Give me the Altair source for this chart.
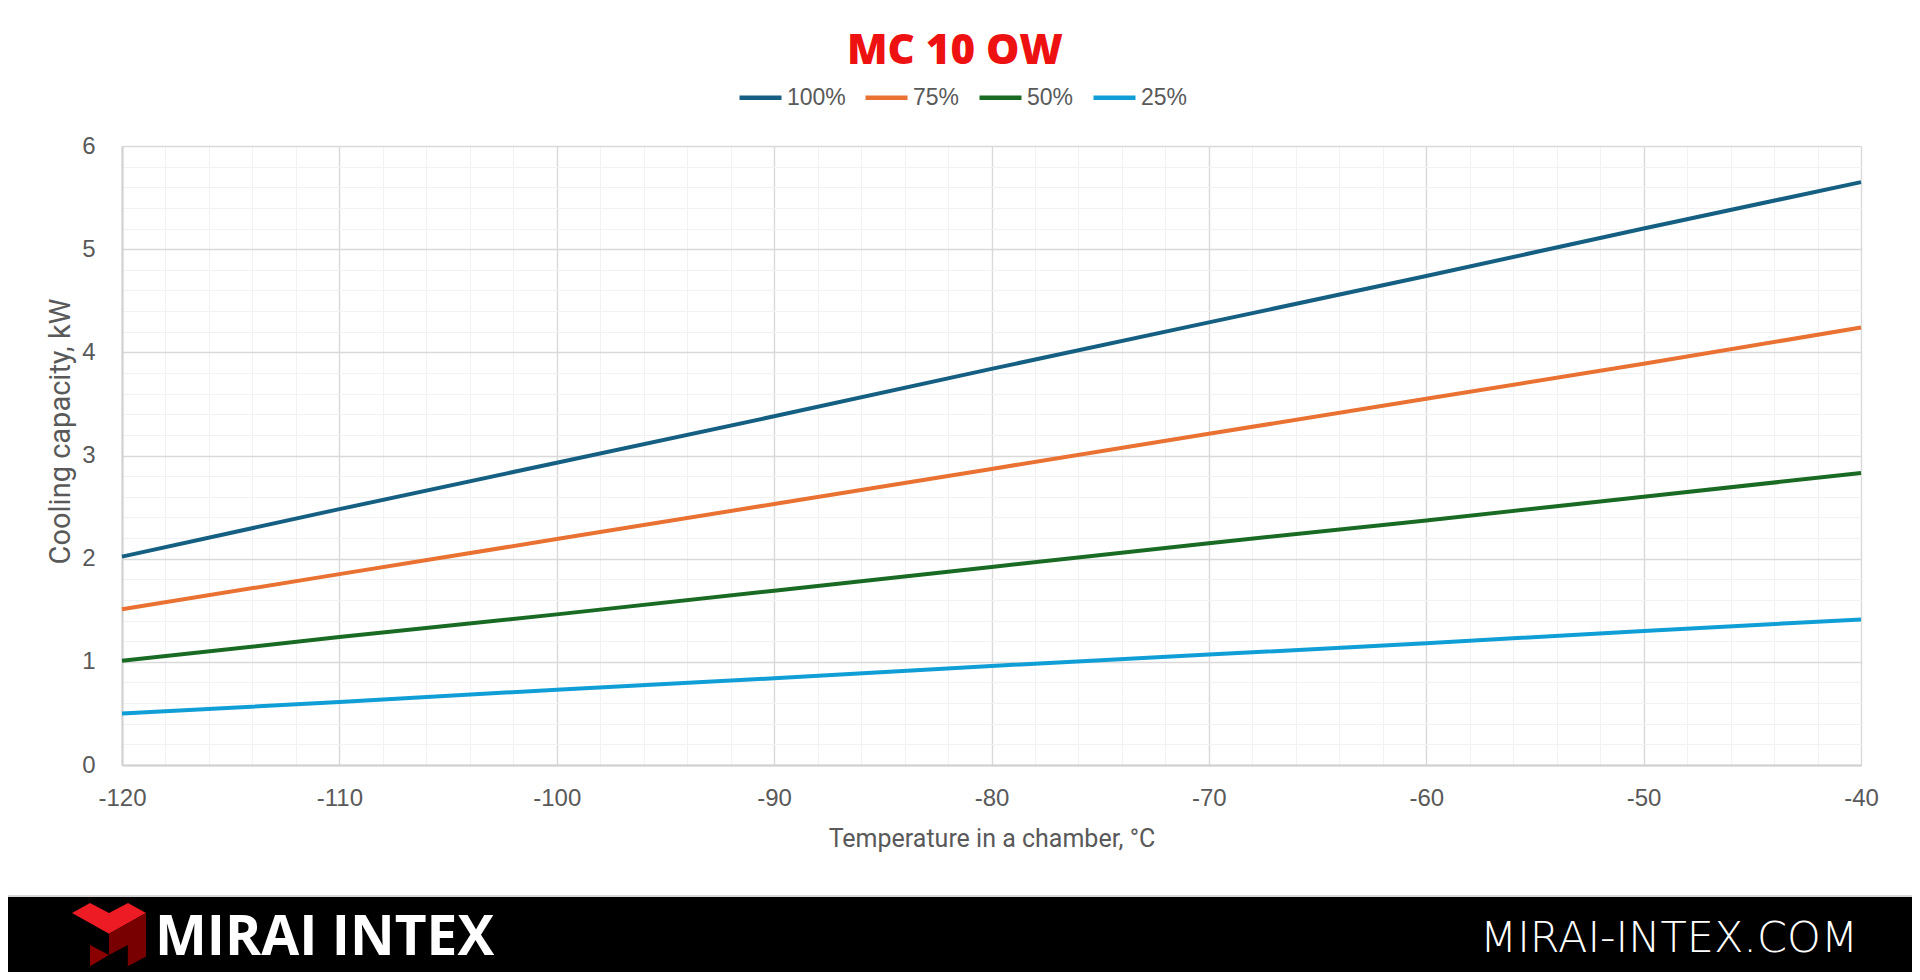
import altair as alt
import pandas as pd

# ---- data ----
temps = [-120, -110, -100, -90, -80, -70, -60, -50, -40]
load_100 = [2.02, 2.48, 2.93, 3.38, 3.84, 4.29, 4.74, 5.20, 5.65]
load_75 = [1.51, 1.85, 2.19, 2.53, 2.87, 3.21, 3.55, 3.89, 4.24]
load_50 = [1.01, 1.24, 1.46, 1.69, 1.92, 2.15, 2.37, 2.60, 2.83]
load_25 = [0.50, 0.61, 0.73, 0.84, 0.96, 1.07, 1.18, 1.30, 1.41]
series_names = ["100%", "75%", "50%", "25%"]
series_colors = ["#156082", "#E97132", "#196B24", "#0F9ED5"]

x_ticks = list(range(-120, -39, 2))
y_ticks = [round(i * 0.2, 1) for i in range(31)]

title_text = "MC 10 OW"
x_title = "Temperature in a chamber, °C"
y_title = "Cooling capacity, kW"
brand_text = "MIRAI INTEX"
site_text = "MIRAI-INTEX.COM"

rows = []
for name, vals in zip(series_names, [load_100, load_75, load_50, load_25]):
    for t, v in zip(temps, vals):
        rows.append({"series": name, "temp": t, "kw": v})
df = pd.DataFrame(rows)

PW, PH = 1739, 619
GRAY = "#595959"
one = pd.DataFrame({"a": [0]})

x_axis = alt.Axis(
    values=x_ticks, grid=True, ticks=False, domain=True,
    domainColor="#D0D0D0", domainWidth=2,
    gridColor={"condition": {"test": "datum.value % 10 === 0", "value": "#D9D9D9"}, "value": "#F2F2F2"},
    gridWidth={"condition": {"test": "datum.value % 10 === 0", "value": 1.4}, "value": 1},
    labelExpr="datum.value % 10 === 0 ? '' + datum.value : ''",
    labelOverlap=False, labelFont="Liberation Sans", labelFontSize=24, labelColor=GRAY,
    labelPadding=40, labelBaseline="alphabetic", labelFlush=False,
    title=x_title, titleFont="Roboto", titleFontSize=25, titleColor=GRAY, titleFontWeight="normal",
    titleY=81, titleBaseline="alphabetic",
)
y_axis = alt.Axis(
    values=y_ticks, grid=True, ticks=False, domain=True,
    domainColor="#D0D0D0", domainWidth=2,
    gridColor={"condition": {"test": "abs(datum.value - round(datum.value)) < 0.001", "value": "#D9D9D9"}, "value": "#F2F2F2"},
    gridWidth={"condition": {"test": "abs(datum.value - round(datum.value)) < 0.001", "value": 1.4}, "value": 1},
    labelExpr="abs(datum.value - round(datum.value)) < 0.001 ? '' + round(datum.value) : ''",
    labelOverlap=False, labelFont="Liberation Sans", labelFontSize=24, labelColor=GRAY,
    labelPadding=27, labelBaseline="middle", labelFlush=False,
    title=y_title, titleFont="Roboto", titleFontSize=29, titleColor=GRAY, titleFontWeight="normal",
    titleX=-62, titleY=285, titleBaseline="middle", titleAngle=270,
)

lines = alt.Chart(df).mark_line(strokeWidth=4).encode(
    x=alt.X("temp:Q", scale=alt.Scale(domain=[-120, -40], nice=False, zero=False), axis=x_axis),
    y=alt.Y("kw:Q", scale=alt.Scale(domain=[0, 6], nice=False), axis=y_axis),
    color=alt.Color(
        "series:N",
        scale=alt.Scale(domain=series_names, range=series_colors),
        sort=series_names,
        legend=alt.Legend(
            title=None, orient="none", direction="horizontal", legendX=615, legendY=-72,
            symbolType="stroke", symbolSize=1764, symbolStrokeWidth=4.5,
            labelFont="Liberation Sans", labelFontSize=23, labelColor=GRAY,
            labelOffset=3, columnPadding=10, padding=0, labelLimit=0,
        ),
    ),
    detail="series:N",
)

title = alt.Chart(pd.DataFrame({"t": [title_text]})).mark_text(
    font="Open Sans", fontWeight=800, fontSize=42, color="#EE1111",
    align="center", baseline="alphabetic",
).encode(text="t:N", x=alt.value(833), y=alt.value(-82))

footer_line = alt.Chart(one).mark_rule(color="#C8C8C8", strokeWidth=1.5).encode(
    x=alt.value(-114), x2=alt.value(1790), y=alt.value(750))
footer = alt.Chart(one).mark_rect(color="#000000").encode(
    x=alt.value(-114), x2=alt.value(1790), y=alt.value(751), y2=alt.value(826))

# logo pieces as custom symbol paths (normalized -1..1)
logo_top = "M -0.925 -0.55 L -0.475 -0.8 L 0 -0.55 L 0.475 -0.8 L 0.925 -0.55 L 0 -0.03 Z"
logo_right = "M 0 -0.03 L 0.925 -0.55 L 0.925 0.54 L 0.47 0.78 L 0.47 0.25 L 0 0.5 Z"
logo_left = "M -0.475 0.25 L 0 0.5 L -0.475 0.78 Z"
logo_layers = []
for path, col in [(logo_top, "#ED1C24"), (logo_right, "#780000"), (logo_left, "#8A0000")]:
    logo_layers.append(
        alt.Chart(one).mark_point(shape=path, filled=True, opacity=1, size=6400, color=col, strokeWidth=0)
        .encode(x=alt.value(-13), y=alt.value(789))
    )

brand = alt.Chart(pd.DataFrame({"t": [brand_text]})).mark_text(
    font="Open Sans", fontWeight=700, fontSize=55, color="#FFFFFF",
    align="left", baseline="alphabetic",
).encode(text="t:N", x=alt.value(33), y=alt.value(809))

site = alt.Chart(pd.DataFrame({"t": [site_text]})).mark_text(
    font="DejaVu Sans", fontWeight=200, fontSize=43, color="#FFFFFF",
    align="right", baseline="alphabetic",
).encode(text="t:N", x=alt.value(1736), y=alt.value(806))

chart = alt.layer(lines, title, footer_line, footer, *logo_layers, brand, site).properties(
    width=PW, height=PH,
    autosize=alt.AutoSizeParams(type="none"),
    padding={"left": 114, "top": 138, "right": 51, "bottom": 207},
    background="#FFFFFF",
).configure_view(strokeWidth=0)

chart.save("out.html", embed_options={"renderer": "svg", "actions": False})
